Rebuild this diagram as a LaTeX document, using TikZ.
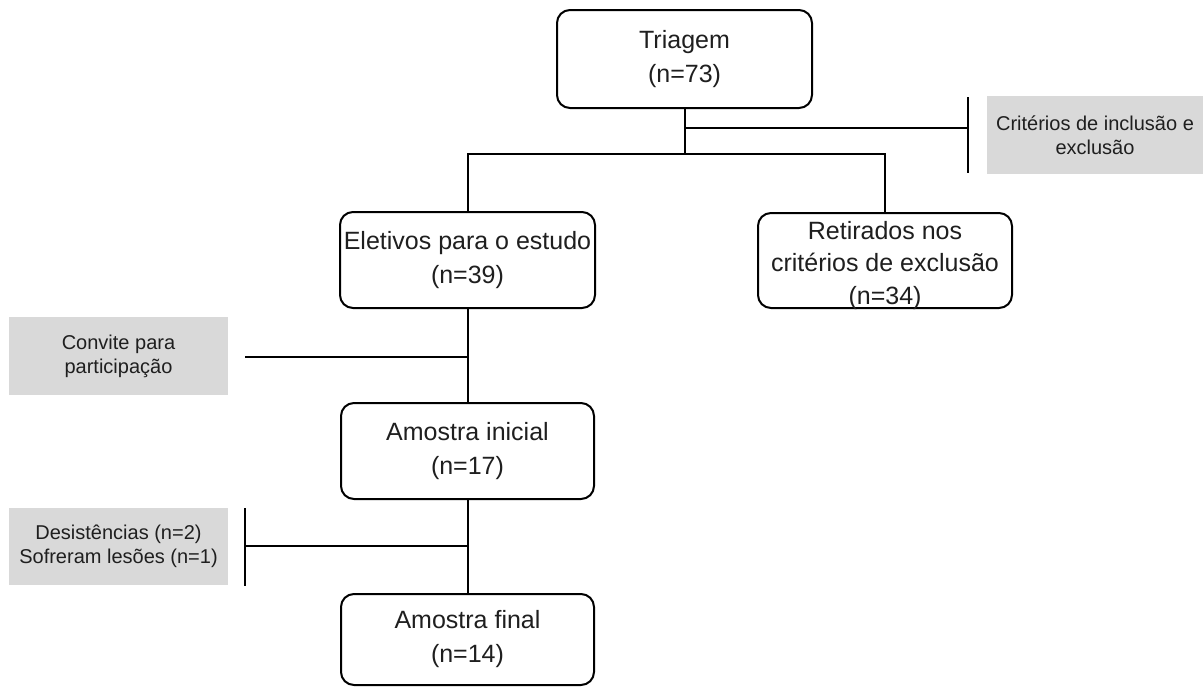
\documentclass[tikz,border=0pt]{standalone}
\usepackage{fontspec}
\setmainfont{Liberation Sans}
\definecolor{txt}{HTML}{1F1F1F}
\definecolor{greyfill}{HTML}{D9D9D9}
\begin{document}
\begin{tikzpicture}[x=1pt,y=-1pt,
  mainbox/.style={draw=black, line width=2pt, rounded corners=13pt, align=center,
    text=txt, inner sep=0pt, font=\fontsize{25}{34}\selectfont},
  notebox/.style={fill=greyfill, draw=none, align=center, text=txt, inner sep=0pt,
    font=\fontsize{20}{24}\selectfont},
  conn/.style={draw=black, line width=2pt}]
\useasboundingbox (0,0) rectangle (1203,686);
\fill[white] (0,0) rectangle (1203,686);
% main boxes
\node[mainbox, minimum width=255pt, minimum height=98pt] (tri) at (684.5,59) {Triagem\\(n=73)};
\node[mainbox, minimum width=255pt, minimum height=96pt] (ele) at (467.5,260) {Eletivos para o estudo\\(n=39)};
\node[mainbox, minimum width=254pt, minimum height=95pt,
  label={[font=\fontsize{25}{32.5}\selectfont, align=center, text=txt, inner sep=0pt, yshift=-5pt]center:Retirados nos\\critérios de exclusão\\(n=34)}] (ret) at (885,260.5) {};
\node[mainbox, minimum width=253pt, minimum height=96pt] (ini) at (467.5,451) {Amostra inicial\\(n=17)};
\node[mainbox, minimum width=253pt, minimum height=91pt] (fin) at (467.5,639.5) {Amostra final\\(n=14)};
% grey notes
\node[notebox, minimum width=216pt, minimum height=78pt] (crit) at (1095,135) {Critérios de inclusão e\\exclusão};
\node[notebox, minimum width=219pt, minimum height=78pt] (conv) at (118.5,356) {Convite para\\participação};
\node[notebox, minimum width=219pt, minimum height=77pt] (des) at (118.5,546.5) {Desistências (n=2)\\Sofreram lesões (n=1)};
% helper coordinates
\coordinate (br) at (686,154);
\coordinate (side1) at (686,128);
\coordinate (bar1a) at (968,97);
\coordinate (bar1b) at (968,173);
\coordinate (bar1m) at (968,128);
\coordinate (conv1) at (245,357);
\coordinate (conv2) at (467.5,357);
\coordinate (bar2a) at (245,508);
\coordinate (bar2b) at (245,586);
\coordinate (bar2m) at (245,546);
\coordinate (des2) at (467.5,546);
% connectors
\draw[conn] (tri.south) -- (tri.south |- br);
\draw[conn] (ele.north) -- (ele.north |- br) -- (ret.north |- br) -- (ret.north);
\draw[conn] (tri.south |- side1) -- (bar1m);
\draw[conn] (bar1a) -- (bar1b);
\draw[conn] (ele.south) -- (ini.north);
\draw[conn] (conv1) -- (conv2);
\draw[conn] (ini.south) -- (fin.north);
\draw[conn] (bar2a) -- (bar2b);
\draw[conn] (bar2m) -- (des2);
\end{tikzpicture}
\end{document}
